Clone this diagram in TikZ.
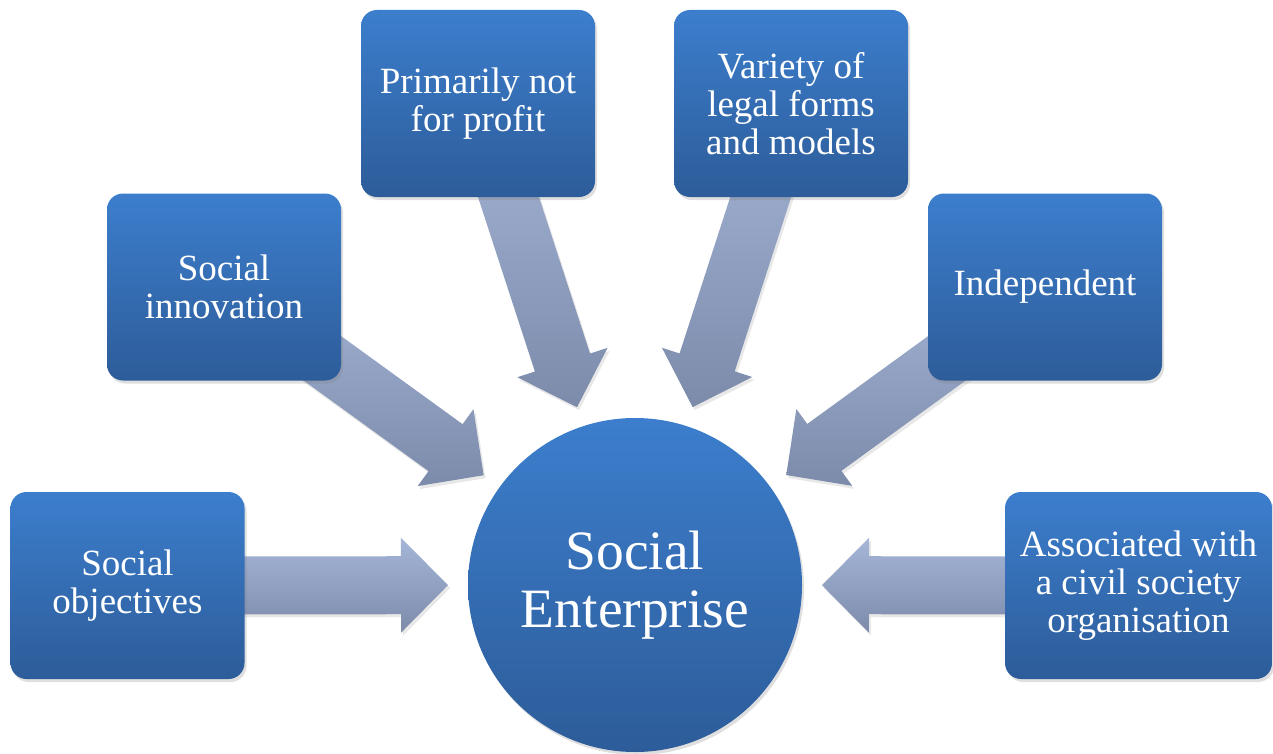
\documentclass[tikz,border=0pt]{standalone}
\usepackage{fontspec}
\setmainfont{Liberation Serif}
\usetikzlibrary{calc,shadows}
\definecolor{boxtop}{RGB}{60,126,205}
\definecolor{boxbot}{RGB}{45,92,153}
\definecolor{arrtop}{RGB}{166,182,216}
\definecolor{arrbot}{RGB}{124,139,170}
\pgfdeclarelayer{bg}
\pgfsetlayers{bg,main}
\tikzset{
  box/.style={rectangle, rounded corners=16pt, minimum width=234pt, minimum height=187pt,
    inner sep=0pt, top color=boxtop, bottom color=boxbot, draw=none, text=white,
    align=center, font=\fontsize{37}{38}\selectfont,
    drop shadow={shadow xshift=2pt, shadow yshift=-3pt, opacity=0.25}},
  hub/.style={circle, minimum size=334pt, inner sep=0pt, top color=boxtop, bottom color=boxbot,
    draw=none, text=white, align=center, font=\fontsize{55.5}{58}\selectfont,
    drop shadow={shadow xshift=2pt, shadow yshift=-3pt, opacity=0.25}},
  blockarrow/.style={top color=arrtop, bottom color=arrbot, draw=none,
    drop shadow={shadow xshift=2pt, shadow yshift=-3pt, opacity=0.18}}
}
\newcommand\blockarr[2]{%
  \coordinate (tp) at ($(#2.center)!187pt!(#1.center)$);
  \coordinate (hb) at ($(tp)!47pt!(#1.center)$);
  \path[blockarrow] ($(#1.center)!29pt!90:(hb)$) -- ($(hb)!29pt!-90:(#1.center)$)
    -- ($(hb)!47.5pt!-90:(#1.center)$) -- (tp) -- ($(hb)!47.5pt!90:(#1.center)$)
    -- ($(hb)!29pt!90:(#1.center)$) -- ($(#1.center)!29pt!-90:(hb)$) -- cycle;
}
\begin{document}
\begin{tikzpicture}[x=1pt,y=-1pt]
\path[use as bounding box] (0,0) rectangle (1273,754);
\node[hub] (hubn) at (635,585) {Social\\Enterprise};
\node[box] (so) at (127.5,585.5) {Social\\objectives};
\node[box] (si) at (224,287) {Social\\innovation};
\node[box] (pn) at (478,103.5) {Primarily not\\for profit};
\node[box] (vl) at (791,103.5) {Variety of\\legal forms\\and models};
\node[box] (ind) at (1045,287) {Independent};
\node[box, minimum width=267pt] (acs) at (1138.5,585.5) {Associated with\\a civil society\\organisation};
\begin{pgfonlayer}{bg}
\blockarr{so}{hubn}
\blockarr{si}{hubn}
\blockarr{pn}{hubn}
\blockarr{vl}{hubn}
\blockarr{ind}{hubn}
\blockarr{acs}{hubn}
\end{pgfonlayer}
\end{tikzpicture}
\end{document}
